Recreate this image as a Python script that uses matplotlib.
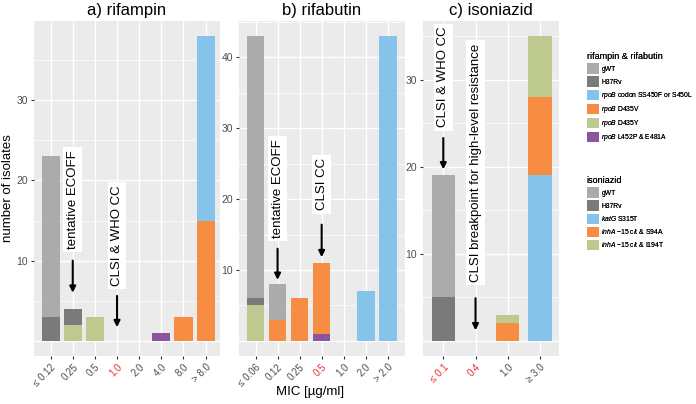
import matplotlib
matplotlib.use("Agg")
import matplotlib.pyplot as plt
from matplotlib.patches import Patch
import numpy as np

plt.rcParams['font.family'] = ['Liberation Sans', 'DejaVu Sans']
plt.rcParams['mathtext.fontset'] = 'custom'
plt.rcParams['mathtext.rm'] = 'Liberation Sans'
plt.rcParams['mathtext.it'] = 'Liberation Sans:italic'

# colours
c_gwt = "#ABABAB"
c_h37 = "#7A7A7A"
c_blue = "#85C3EA"
c_orange = "#F78D42"
c_green = "#BDC98F"
c_purple = "#8B559E"

# a) rifampin
rif_cats = ["\u2264 0.12", "0.25", "0.5", "1.0", "2.0", "4.0", "8.0", "> 8.0"]
rif_L452P = [0, 0, 0, 0, 0, 1, 0, 0]
rif_D435Y = [0, 2, 3, 0, 0, 0, 0, 0]
rif_D435V = [0, 0, 0, 0, 0, 0, 3, 15]
rif_S450 = [0, 0, 0, 0, 0, 0, 0, 23]
rif_H37Rv = [3, 2, 0, 0, 0, 0, 0, 0]
rif_gWT = [20, 0, 0, 0, 0, 0, 0, 0]
rif_red = ["1.0"]

# b) rifabutin
rfb_cats = ["\u2264 0.06", "0.12", "0.25", "0.5", "1.0", "2.0", "> 2.0"]
rfb_L452P = [0, 0, 0, 1, 0, 0, 0]
rfb_D435Y = [5, 0, 0, 0, 0, 0, 0]
rfb_D435V = [0, 3, 6, 10, 0, 0, 0]
rfb_S450 = [0, 0, 0, 0, 0, 7, 43]
rfb_H37Rv = [1, 0, 0, 0, 0, 0, 0]
rfb_gWT = [37, 5, 0, 0, 0, 0, 0]
rfb_red = ["0.5"]

# c) isoniazid
inh_cats = ["\u2264 0.1", "0.4", "1.0", "\u2265 3.0"]
inh_katG = [0, 0, 0, 19]
inh_S94A = [0, 0, 2, 9]
inh_I194T = [0, 0, 1, 7]
inh_H37Rv = [5, 0, 0, 0]
inh_gWT = [14, 0, 0, 0]
inh_red = ["\u2264 0.1", "0.4"]

fig = plt.figure(figsize=(6.96, 4.04), dpi=100)
W, H = 696, 404


def panel(x0, x1):
    return fig.add_axes([x0 / W, (H - 356) / H, (x1 - x0) / W, 335 / H])


def style(ax, cats, red, yticks, xlim, ylim, title):
    ax.set_facecolor("#EBEBEB")
    for s in ax.spines.values():
        s.set_visible(False)
    ax.set_xlim(*xlim)
    ax.set_ylim(*ylim)
    ax.set_xticks(range(len(cats)))
    ax.set_xticklabels(cats, rotation=45, ha="right", va="top",
                       rotation_mode="anchor", fontsize=7)
    for lab in ax.get_xticklabels():
        lab.set_color("#E8302B" if lab.get_text() in red else "#4D4D4D")
    ax.set_yticks(yticks)
    ax.set_yticklabels([str(t) for t in yticks], fontsize=7.5, color="#4D4D4D")
    ax.set_yticks([t - 5 for t in yticks] + [yticks[-1] + 5], minor=True)
    ax.tick_params(axis="both", which="major", length=2.5, color="#333333", pad=2)
    ax.tick_params(axis="y", which="minor", length=0)
    ax.grid(True, which="major", color="white", linewidth=1.0)
    ax.grid(True, which="minor", axis="y", color="white", linewidth=0.5)
    ax.axhline(0, color="white", linewidth=1.0, zorder=0.5)
    ax.set_axisbelow(True)
    ax.set_title(title, fontsize=12, pad=4)


def stack(ax, series, colors, width):
    x = np.arange(len(series[0]))
    bottom = np.zeros(len(x))
    for vals, col in zip(series, colors):
        ax.bar(x, vals, width, bottom=bottom, color=col, linewidth=0, zorder=2)
        bottom += np.array(vals)


def label(ax, x, yc, y0, y1, text):
    ax.text(x, yc, text, rotation=90, ha="center", va="center", fontsize=9.5, zorder=3,
            bbox=dict(boxstyle="square,pad=0.25", facecolor="white", edgecolor="none"))
    ax.annotate("", xy=(x, y1), xytext=(x, y0),
                arrowprops=dict(arrowstyle="-|>", color="black", lw=1.5,
                                mutation_scale=9, shrinkA=0, shrinkB=0))


rif_colors = [c_purple, c_green, c_orange, c_blue, c_h37, c_gwt]

ax1 = panel(34, 220)
stack(ax1, [rif_L452P, rif_D435Y, rif_D435V, rif_S450, rif_H37Rv, rif_gWT], rif_colors, 0.82)
style(ax1, rif_cats, rif_red, [10, 20, 30], (-0.75, 7.65), (-1.9, 39.9), "a) rifampin")
ax1.set_ylabel("number of isolates", fontsize=9.5)
ax1.yaxis.set_label_coords(-0.11, 0.5)
label(ax1, 1, 17.6, 10, 6, "tentative ECOFF")
label(ax1, 3, 13.1, 5.6, 1.7, "CLSI & WHO CC")

ax2 = panel(239, 405)
stack(ax2, [rfb_L452P, rfb_D435Y, rfb_D435V, rfb_S450, rfb_H37Rv, rfb_gWT], rif_colors, 0.8)
style(ax2, rfb_cats, rfb_red, [10, 20, 30, 40], (-0.75, 6.78), (-2.15, 45.15), "b) rifabutin")
label(ax2, 1, 21.5, 13, 8.6, "tentative ECOFF")
label(ax2, 3, 22.1, 16.4, 11.8, "CLSI CC")

ax3 = panel(423, 559)
stack(ax3, [inh_katG, inh_S94A, inh_I194T, inh_H37Rv, inh_gWT],
      [c_blue, c_orange, c_green, c_h37, c_gwt], 0.72)
style(ax3, inh_cats, inh_red, [10, 20, 30], (-0.63, 3.59), (-1.75, 36.75), "c) isoniazid")
label(ax3, 0, 30.3, 23.3, 19.7, "CLSI & WHO CC")
label(ax3, 1, 20.5, 4.9, 1.2, "CLSI breakpoint for high-level resistance")

fig.text(310 / W, 1 - 392 / H, "MIC [\u00b5g/ml]", ha="center", va="center", fontsize=9.5)

# legends
rif_leg = ["gWT", "H37Rv", "$\\it{rpoB}$ codon SS450F or S450L", "$\\it{rpoB}$ D435V",
           "$\\it{rpoB}$ D435Y", "$\\it{rpoB}$ L452P & E481A"]
rif_leg_cols = [c_gwt, c_h37, c_blue, c_orange, c_green, c_purple]
inh_leg = ["gWT", "H37Rv", "$\\it{katG}$ S315T", "$\\it{inhA}$ \u221215 c/t & S94A",
           "$\\it{inhA}$ \u221215 c/t & I194T"]
inh_leg_cols = [c_gwt, c_h37, c_blue, c_orange, c_green]

for title, labs, cols, top in [("rifampin & rifabutin", rif_leg, rif_leg_cols, 47),
                               ("isoniazid", inh_leg, inh_leg_cols, 171)]:
    handles = [Patch(facecolor=c, edgecolor="none") for c in cols]
    leg = fig.legend(handles, labs, title=title, loc="upper left",
                     bbox_to_anchor=(582 / W, 1 - top / H), frameon=False,
                     fontsize=4.9, title_fontsize=6.5, handlelength=1.75,
                     handleheight=2.0, handletextpad=0.4, labelspacing=0.38,
                     borderpad=0.2, alignment="left")
    fig.add_artist(leg)

plt.savefig("out.png", dpi=100)
